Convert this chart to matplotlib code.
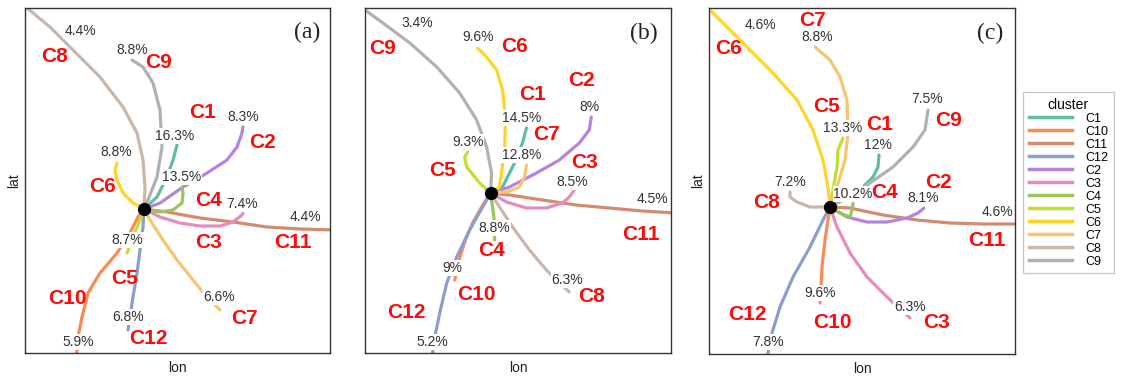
import matplotlib
matplotlib.use("Agg")
import matplotlib.pyplot as plt
from matplotlib.lines import Line2D

plt.rcParams['font.family'] = ['Liberation Sans', 'DejaVu Sans']

clusters = ['C1', 'C10', 'C11', 'C12', 'C2', 'C3', 'C4', 'C5', 'C6', 'C7', 'C8', 'C9']
colors = {
    'C1': '#5fbf9c', 'C10': '#fb8a55', 'C11': '#d38b70', 'C12': '#8b9fcb',
    'C2': '#b584de', 'C3': '#e58bbd', 'C4': '#98c659', 'C5': '#bfe02e',
    'C6': '#ffd426', 'C7': '#f7c570', 'C8': '#cbb6aa', 'C9': '#b1b1b1',
}

# ---- panel (a) trajectories: (lon offsets, lat offsets) from the origin ----
traj_a = {
    'C1': ([0, 13, 23, 29, 33], [0, 12, 32, 49, 64]),
    'C10': ([0, -6, -14, -27, -44, -56, -62, -66, -68], [0, -8, -24, -44, -64, -84, -108, -128, -152]),
    'C11': ([0, 23, 56, 89, 123, 156, 192], [0, -3, -9, -13, -18, -20, -21]),
    'C12': ([0, -1, -4, -7, -11, -14, -16], [0, -18, -41, -64, -88, -108, -121]),
    'C2': ([0, 16, 39, 63, 83, 93, 98, 99], [0, 6, 22, 36, 49, 62, 76, 82]),
    'C3': ([0, 16, 36, 56, 76, 89, 98, 99], [0, -8, -14, -17, -17, -13, -6, -4]),
    'C4': ([0, 16, 29, 38, 39, 38], [0, -3, -1, 6, 16, 22]),
    'C5': ([0, -4, -11, -17], [0, -11, -28, -44]),
    'C6': ([0, -11, -21, -27, -29, -27], [0, 6, 16, 29, 39, 46]),
    'C7': ([0, 6, 19, 33, 49, 63, 76], [0, -11, -31, -51, -71, -88, -101]),
    'C8': ([0, 1, -1, -7, -21, -44, -71, -94, -117, -126], [0, 22, 49, 76, 102, 132, 159, 182, 201, 209]),
    'C9': ([0, 4, 13, 18, 16, 9, -1, -12], [0, 9, 32, 62, 99, 126, 142, 149]),
}
pct_a = [('4.4%', -64, 178), ('8.8%', -12, 159), ('8.3%', 99, 92), ('16.3%', 31, 73),
         ('8.8%', -28, 57), ('13.5%', 38, 32), ('7.4%', 98, 5), ('4.4%', 161, -8),
         ('8.7%', -17, -31), ('6.6%', 75, -88), ('6.8%', -16, -108), ('5.9%', -66, -133)]
lab_a = [('C8', -89, 152), ('C9', 14, 147), ('C1', 59, 96), ('C2', 119, 67), ('C6', -41, 23),
         ('C4', 64, 8), ('C3', 64, -34), ('C11', 149, -34), ('C5', -20, -69), ('C10', -77, -89),
         ('C7', 100, -110), ('C12', 4, -129)]

# ---- panel (b) ----
traj_b = {
    'C1': ([0, 12, 24, 32, 36], [0, 6, 30, 50, 65]),
    'C10': ([0, -9, -18, -25, -31, -36], [0, -14, -30, -46, -65, -87]),
    'C11': ([0, 19, 52, 86, 119, 152, 186], [0, -2, -7, -12, -15, -18, -20]),
    'C12': ([0, -8, -21, -34, -44, -51, -56, -59], [0, -14, -37, -64, -90, -120, -144, -166]),
    'C2': ([0, 19, 46, 69, 89, 99, 101], [0, 6, 20, 33, 50, 63, 76]),
    'C3': ([0, 16, 36, 56, 72, 79, 84], [0, -9, -15, -15, -10, -4, 3]),
    'C4': ([0, 2, 4, 4], [0, -14, -30, -47]),
    'C5': ([0, -11, -24, -26, -23], [0, 10, 26, 36, 41]),
    'C6': ([0, 9, 14, 15, 12, 6, -4, -13], [0, 6, 43, 76, 103, 123, 136, 145]),
    'C7': ([0, 16, 29, 34, 36], [0, 1, 6, 16, 28]),
    'C8': ([0, 9, 22, 39, 56, 69, 79], [0, -14, -34, -57, -77, -90, -99]),
    'C9': ([0, 1, -4, -14, -31, -54, -81, -108, -126, -134], [0, 20, 46, 73, 100, 126, 150, 170, 183, 190]),
}
pct_b = [('3.4%', -74, 170), ('9.6%', -13, 156), ('8%', 99, 86), ('14.5%', 31, 75),
         ('9.3%', -23, 51), ('12.8%', 31, 38), ('8.5%', 82, 11), ('4.5%', 162, -6),
         ('8.8%', 4, -35), ('9%', -38, -75), ('6.3%', 77, -87), ('5.2%', -58, -149)]
lab_b = [('C9', -108, 145), ('C6', 24, 146), ('C2', 91, 113), ('C1', 42, 98), ('C7', 56, 58),
         ('C3', 94, 31), ('C5', -48, 23), ('C11', 151, -42), ('C4', 1, -57), ('C10', -14, -102),
         ('C8', 101, -104), ('C12', -84, -120)]

# ---- panel (c) ----
traj_c = {
    'C1': ([0, 13, 30, 43, 48, 49], [0, 7, 17, 30, 40, 52]),
    'C10': ([0, -2, -5, -8, -9, -10], [0, -13, -33, -60, -80, -96]),
    'C11': ([0, 20, 53, 87, 120, 153, 190], [0, -1, -8, -13, -16, -17, -17]),
    'C12': ([0, -7, -20, -37, -50, -58, -62, -64], [0, -13, -40, -70, -100, -126, -146, -155]),
    'C2': ([0, 17, 37, 57, 77, 88, 94], [0, -10, -15, -15, -11, -6, -1]),
    'C3': ([0, 7, 20, 37, 57, 80], [0, -20, -46, -70, -90, -111]),
    'C4': ([0, 10, 20, 22, 23], [0, -6, -10, -3, 4]),
    'C5': ([0, 3, 7, 8, 13], [0, 17, 40, 57, 69]),
    'C6': ([0, -2, -7, -17, -33, -57, -83, -103, -120, -128], [0, 20, 47, 77, 107, 134, 160, 180, 197, 205]),
    'C7': ([0, 7, 15, 18, 17, 10, 0, -15], [0, 20, 47, 74, 107, 130, 147, 160]),
    'C8': ([0, -20, -33, -40, -40], [0, 0, 5, 10, 15]),
    'C9': ([0, 17, 40, 63, 83, 95, 98], [0, 10, 24, 40, 60, 77, 97]),
}
pct_c = [('4.6%', -70, 182), ('8.8%', -13, 170), ('7.5%', 97, 108), ('13.3%', 13, 79),
         ('12%', 48, 62), ('7.2%', -40, 25), ('10.2%', 23, 13), ('8.1%', 93, 9),
         ('4.6%', 167, -5), ('9.6%', -10, -86), ('6.3%', 80, -100), ('7.8%', -62, -135)]
lab_c = [('C7', -18, 186), ('C6', -102, 159), ('C5', -3, 100), ('C9', 118, 87), ('C1', 50, 82),
         ('C2', 108, 25), ('C4', 55, 15), ('C8', -63, 4), ('C11', 157, -33), ('C12', -83, -108),
         ('C10', 2, -115), ('C3', 107, -116)]

panels = [
    # (trajectories, pct labels, cluster labels, tag, tag pos, xlim, ylim, axes rect px, show lat)
    (traj_a, pct_a, lab_a, '(a)', (163, 177), (-119, 186), (-144, 201), [25, 8, 330, 353], True),
    (traj_b, pct_b, lab_b, '(b)', (154, 160), (-126, 181), (-160, 185), [365, 8, 671, 353], False),
    (traj_c, pct_c, lab_c, '(c)', (160, 174), (-121, 185), (-147, 199), [709, 8, 1015, 354], True),
]

W, H = 1121, 378
fig = plt.figure(figsize=(W / 100, H / 100), dpi=100)

for traj, pct, lab, tag, tagpos, xl, yl, rect, show_lat in panels:
    l, t, r, b = rect
    ax = fig.add_axes([l / W, 1 - b / H, (r - l) / W, (b - t) / H])
    for c in clusters:
        xs, ys = traj[c]
        ax.plot(xs, ys, color=colors[c], lw=2.3, solid_capstyle='round',
                solid_joinstyle='round', zorder=2)
    ax.plot([0], [0], 'o', color='black', ms=8.5, zorder=4)
    for txt, x, y in pct:
        ax.text(x, y, txt, ha='center', va='center', fontsize=10, color='#333333', zorder=5,
                bbox=dict(boxstyle='square,pad=0.05', fc='white', ec='none'), clip_on=False)
    for txt, x, y in lab:
        ax.text(x, y, txt, ha='center', va='center', fontsize=15, fontweight='bold',
                color='#ff0a0a', zorder=6)
    ax.text(tagpos[0], tagpos[1], tag, ha='center', va='center', fontsize=17,
            family='Liberation Serif', color='#222222', zorder=6)
    ax.set_xlim(*xl)
    ax.set_ylim(*yl)
    ax.set_xticks([])
    ax.set_yticks([])
    for s in ax.spines.values():
        s.set_color('#333333')
        s.set_linewidth(1.0)
    ax.set_xlabel('lon', fontsize=10, color='#222222', labelpad=6)
    if show_lat:
        ax.set_ylabel('lat', fontsize=10, color='#222222', labelpad=3)

handles = [Line2D([0], [0], color=colors[c], lw=2.5) for c in clusters]
leg = fig.legend(handles, clusters, title='cluster', loc='upper left',
                 bbox_to_anchor=(1023 / W, 1 - 92 / H), fontsize=9, title_fontsize=10,
                 handlelength=3.5, labelspacing=0.08, handletextpad=1.0,
                 borderpad=0.45, borderaxespad=0, frameon=True, fancybox=False)
leg.get_frame().set_edgecolor('#bbbbbb')
leg.get_frame().set_linewidth(1.0)

fig.savefig('out.png', dpi=100)
